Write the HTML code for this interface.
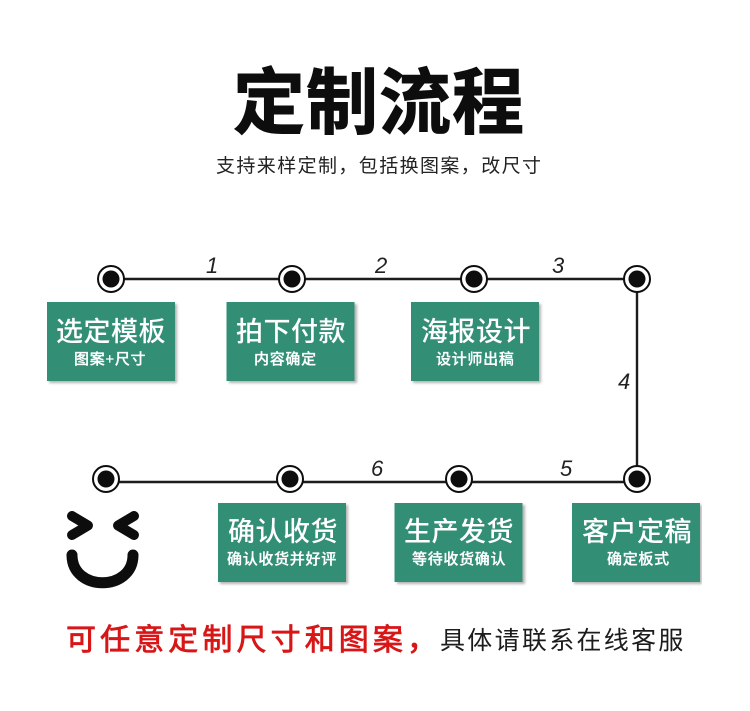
<!DOCTYPE html>
<html lang="zh">
<head>
<meta charset="utf-8">
<title>定制流程</title>
<style>
html,body{margin:0;padding:0;background:#fff;}
svg{display:block;}
text{font-family:"Liberation Sans","Noto Sans CJK SC",sans-serif;}
.m{font-size:27px;letter-spacing:0.5px;fill:#fff;font-weight:500;}
.s{font-size:15px;letter-spacing:0.7px;fill:#fff;font-weight:500;stroke:#fff;stroke-width:.25;}
.n{font-size:22px;font-style:italic;fill:#222;font-family:"Liberation Sans",sans-serif;}
.b{fill:#338f76;}
.sh{fill:#9a9a9a;opacity:.75;}
</style>
</head>
<body>
<svg width="750" height="711" viewBox="0 0 750 711" xmlns="http://www.w3.org/2000/svg">
<defs>
<filter id="bl" x="-10%" y="-10%" width="120%" height="120%"><feGaussianBlur stdDeviation="1.2"/></filter>
<filter id="soft" x="0" y="0" width="100%" height="100%"><feGaussianBlur stdDeviation="0.35"/></filter>
<g id="node">
<circle r="13" fill="#fff" stroke="#111" stroke-width="2"/>
<circle r="8.5" fill="#0a0a0a"/>
</g>
</defs>
<rect width="750" height="711" fill="#fff"/>
<g filter="url(#soft)">

<text x="233" y="128" font-size="72" font-weight="700" letter-spacing="1" fill="#0a0a0a" stroke="#0a0a0a" stroke-width="1">定制流程</text>
<text x="216" y="172" font-size="19" letter-spacing="1.4" fill="#222">支持来样定制，包括换图案，改尺寸</text>

<path d="M111 279H637V482H106" fill="none" stroke="#1a1a1a" stroke-width="2.4"/>
<use href="#node" x="111" y="279"/>
<use href="#node" x="292" y="279"/>
<use href="#node" x="474" y="279"/>
<use href="#node" x="637" y="279"/>
<use href="#node" x="106" y="479"/>
<use href="#node" x="290" y="479"/>
<use href="#node" x="459" y="479"/>
<use href="#node" x="637" y="479"/>

<text class="n" x="206" y="273">1</text>
<text class="n" x="375" y="273">2</text>
<text class="n" x="552" y="273">3</text>
<text class="n" x="618" y="389">4</text>
<text class="n" x="371" y="476">6</text>
<text class="n" x="560" y="476">5</text>

<g filter="url(#bl)">
<rect class="sh" x="49" y="304" width="128" height="79"/>
<rect class="sh" x="229" y="304" width="128" height="79"/>
<rect class="sh" x="413" y="304" width="128" height="79"/>
<rect class="sh" x="220" y="505" width="128" height="79"/>
<rect class="sh" x="397" y="505" width="128" height="79"/>
<rect class="sh" x="574" y="505" width="128" height="79"/>
</g>

<rect class="b" x="47" y="302" width="128" height="79"/>
<text class="m" x="56" y="341">选定模板</text>
<text class="s" x="74" y="364">图案+尺寸</text>

<rect class="b" x="226.500" y="302" width="128" height="79"/>
<text class="m" x="236" y="341">拍下付款</text>
<text class="s" x="254" y="364">内容确定</text>

<rect class="b" x="411" y="302" width="128" height="79"/>
<text class="m" x="421" y="341">海报设计</text>
<text class="s" x="436" y="364">设计师出稿</text>

<rect class="b" x="218" y="503" width="128" height="79"/>
<text class="m" x="228" y="541">确认收货</text>
<text class="s" x="227" y="564">确认收货并好评</text>

<rect class="b" x="394.500" y="503" width="128" height="79"/>
<text class="m" x="404" y="541">生产发货</text>
<text class="s" x="412" y="564">等待收货确认</text>

<rect class="b" x="572" y="503" width="128" height="79"/>
<text class="m" x="582" y="541">客户定稿</text>
<text class="s" x="607" y="564">确定板式</text>

<g fill="none" stroke="#0a0a0a" stroke-linecap="round" stroke-linejoin="round">
<path d="M72 516L88 525.500L72 535" stroke-width="10"/>
<path d="M134 516L118 525.500L134 535" stroke-width="10"/>
<path d="M72 555C72 592 133 592 133 555" stroke-width="11"/>
</g>

<text x="66" y="650" font-size="30" font-weight="400" letter-spacing="4.1" fill="#d81418" stroke="#d81418" stroke-width=".8">可任意定制尺寸和图案，</text>
<text x="440" y="649" font-size="25" font-weight="400" letter-spacing="2.3" fill="#1a1a1a">具体请联系在线客服</text>
</g>
</svg>
</body>
</html>
